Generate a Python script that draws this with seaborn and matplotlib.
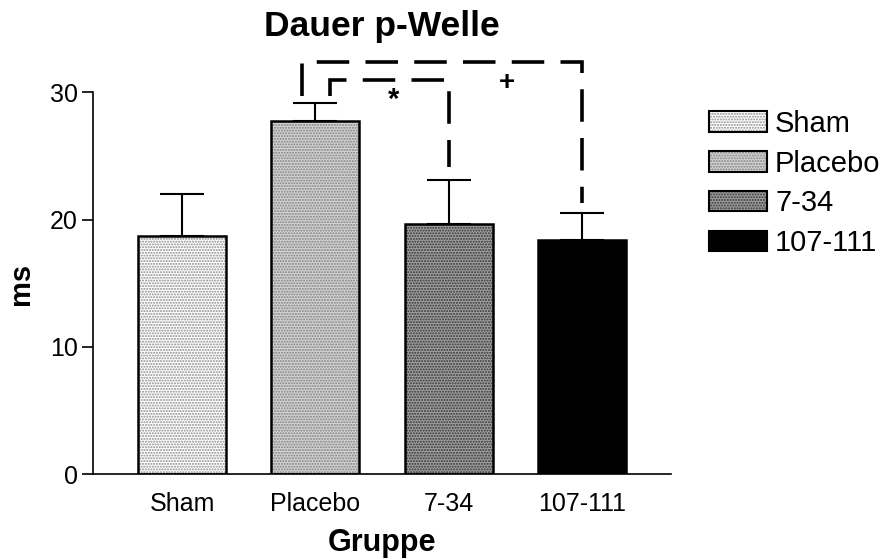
import matplotlib
matplotlib.use("Agg")
import matplotlib.pyplot as plt
import matplotlib.patches as mpatches
import seaborn as sns
import numpy as np
import pandas as pd

# ---- data ----
groups = ["Sham", "Placebo", "7-34", "107-111"]
means = [18.7, 27.75, 19.65, 18.4]
sem = [3.35, 1.4, 3.5, 2.1]
yticks = [0, 10, 20, 30]

# significance brackets: (from-group, to-group, bracket height, left leg bottom, right leg bottom, symbol)
brk_outer = dict(frm=1, to=3, top=32.4, left_bottom=29.7, right_bottom=21.3, sym="+")
brk_inner = dict(frm=1, to=2, top=30.95, left_bottom=29.7, right_bottom=24.1, sym="*")

title = "Dauer p-Welle"
xlabel = "Gruppe"
ylabel = "ms"

# ---- style ----
sns.set_theme(style="white")
plt.rcParams["font.family"] = ["Liberation Sans", "DejaVu Sans"]
plt.rcParams["hatch.linewidth"] = 1.0
plt.rcParams["text.color"] = "black"

face = ["#ffffff", "#d4d4d4", "#a0a0a0", "#000000"]
hatches = ["......", "......", "......", ""]
hatch_cols = [(0.55, 0.55, 0.55, 1), (0.5, 0.5, 0.5, 1), (0.2, 0.2, 0.2, 1), (0, 0, 0, 1)]

df = pd.DataFrame({"Gruppe": groups, "ms": means})

fig = plt.figure(figsize=(8.89, 5.59), dpi=100)
ax = fig.add_axes([0.1046, 0.152, 0.6502, 0.7738])

sns.barplot(data=df, x="Gruppe", y="ms", order=groups, color="white",
            width=0.66, ax=ax, errorbar=None, zorder=2)

for p, fc, h, hc in zip(ax.patches, face, hatches, hatch_cols):
    p.set_facecolor(fc)
    p.set_edgecolor("black")
    p.set_linewidth(1.8)
    p.set_hatch(h)
    p._hatch_color = hc

xpos = np.arange(len(groups))
ax.errorbar(xpos, means, yerr=[np.zeros(len(sem)), sem], fmt="none",
            ecolor="black", elinewidth=1.5, capsize=16, capthick=1.5, zorder=1)

# brackets
dash = (0, (9, 4.5))
def bracket(b, left_off):
    x0 = b["frm"] + left_off
    x1 = b["to"]
    ax.plot([x0, x0, x1, x1], [b["left_bottom"], b["top"], b["top"], b["right_bottom"]],
            color="black", lw=2.6, linestyle=dash, solid_joinstyle="miter",
            dash_joinstyle="miter", clip_on=False, zorder=3)

bracket(brk_outer, -0.1)
bracket(brk_inner, 0.113)
ax.text(1.59, 29.4, brk_inner["sym"], ha="center", va="center", fontsize=21, fontweight="bold")
ax.text(2.44, 30.7, brk_outer["sym"], ha="center", va="center", fontsize=20, fontweight="bold")

ax.set_xlim(-0.67, 3.67)
ax.set_ylim(0, 34)
ax.set_yticks(yticks)
ax.set_yticklabels([str(t) for t in yticks], fontsize=18)
ax.set_xticks(xpos)
ax.set_xticklabels(groups, fontsize=18)
ax.tick_params(axis="y", length=8, width=1.2, pad=3, color="black", labelcolor="black", left=True)
ax.tick_params(axis="x", length=0, pad=13, labelcolor="black")

sns.despine(ax=ax)
ax.spines["left"].set_bounds(0, 30)
for s in ["left", "bottom"]:
    ax.spines[s].set_linewidth(1.2)
    ax.spines[s].set_color("black")

ax.set_xlabel(xlabel, fontsize=22, fontweight="bold", color="black")
ax.set_ylabel(ylabel, fontsize=21, fontweight="bold", color="black")
ax.xaxis.set_label_coords(0.5, -0.125)
ax.yaxis.set_label_coords(-0.1, 0.44)

fig.text(0.43, 0.952, title, ha="center", va="center", fontsize=25.5, fontweight="bold",
         color="black")

# legend
handles = []
for fc, h, hc in zip(face, hatches, hatch_cols):
    hp = mpatches.Patch(facecolor=fc, edgecolor="black", linewidth=1.5, hatch=h)
    hp._hatch_color = hc
    handles.append(hp)
leg = ax.legend(handles, groups, loc="upper left", bbox_to_anchor=(0.797, 0.804),
                bbox_transform=fig.transFigure, frameon=False, fontsize=21,
                handlelength=2.0, handleheight=0.7, handletextpad=0.28,
                labelspacing=0.41, borderpad=0, borderaxespad=0)
for lh, hc in zip(leg.legend_handles, hatch_cols):
    lh._hatch_color = hc
for t in leg.get_texts():
    t.set_color("black")

fig.savefig("out.png", dpi=100)
